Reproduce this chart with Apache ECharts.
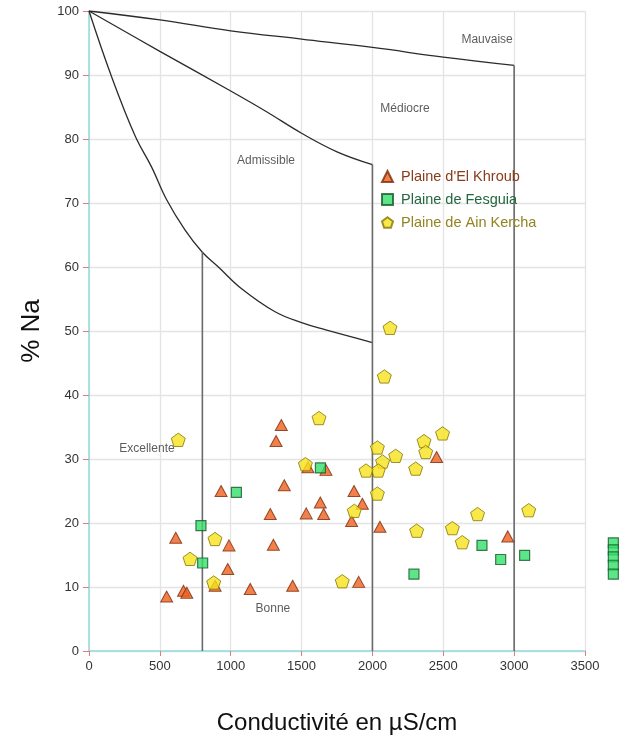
<!DOCTYPE html>
<html>
<head>
<meta charset="utf-8">
<script src="https://cdn.jsdelivr.net/npm/echarts@6/dist/echarts.min.js"></script>
<style>
html,body{margin:0;padding:0;background:#fff;}
#chart{width:627px;height:749px;}
</style>
</head>
<body>
<div id="chart"></div>
<script>
// ---- data ----
var khroubX = [548, 667, 690, 612, 932, 988, 979, 1138, 1437, 1301, 1279, 1320, 1357, 1378, 1533, 1632, 1656, 1672, 1545, 890, 1870, 1929, 1853, 2053, 1903, 2453, 2955];
var khroubY = [8.5, 9.4, 9.1, 17.7, 25.0, 16.5, 12.8, 9.7, 10.2, 16.6, 21.4, 32.8, 35.3, 25.9, 21.5, 23.2, 21.4, 28.3, 28.7, 10.2, 25.0, 23.0, 20.3, 19.4, 10.8, 30.3, 17.9];

var fesguiaX = [790, 802, 1040, 1633, 2293, 2773, 2905, 3074, 3700, 3700, 3700, 3700, 3700];
var fesguiaY = [19.6, 13.75, 24.8, 28.6, 12.0, 16.5, 14.3, 14.95, 16.9, 15.8, 14.7, 13.4, 12.0];

var kerchaX = [630, 889, 713, 880, 1623, 1527, 2124, 2084, 2495, 2364, 2376, 2035, 2164, 2072, 2041, 1955, 2305, 2035, 1872, 1787, 2312, 2564, 2634, 2742, 3103];
var kerchaY = [33.0, 17.5, 14.4, 10.7, 36.4, 29.2, 50.5, 42.9, 34.0, 32.8, 31.1, 31.8, 30.5, 29.6, 28.2, 28.2, 28.5, 24.6, 21.9, 10.9, 18.8, 19.2, 17.0, 21.4, 22.0];

// Wilcox boundaries
var topLineX = [0, 500, 1000, 1500, 2000, 2500, 3000];
var topLineY = [100, 98.6, 96.9, 95.6, 94.3, 92.8, 91.5];
var midCurveX = [0, 500, 1000, 1250, 1500, 1750, 2000];
var midCurveY = [100, 93.7, 87.5, 84.3, 80.9, 78.0, 76.0];
var lowCurveX = [0, 155, 325, 442, 548, 677, 800, 913, 1077, 1313, 1500, 1665, 2000];
var lowCurveY = [100, 90, 80.5, 75.6, 70.5, 65.8, 62.3, 60.0, 56.6, 53.0, 51.3, 50.2, 48.2];
var vertLineX = [800, 2000, 3000];
var vertLineTop = [62.3, 76.0, 91.5];

var zoneNames = ['Mauvaise', 'Médiocre', 'Admissible', 'Excellente', 'Bonne'];
var zoneX = [2809, 2230, 1249, 409, 1298];
var zoneY = [95.5, 84.8, 76.6, 31.6, 6.6];

var xTicks = [0, 500, 1000, 1500, 2000, 2500, 3000, 3500];
var yTicks = [0, 10, 20, 30, 40, 50, 60, 70, 80, 90, 100];

// ---- helpers ----
function zip(a, b) { return a.map(function (v, i) { return [v, b[i]]; }); }
var FONT = 'Liberation Sans, Arial, sans-serif';
var pentagon = 'path://M0,-10 L9.51,-3.09 L5.88,8.09 L-5.88,8.09 L-9.51,-3.09 Z';

var lineSeries = [];
[[topLineX, topLineY], [midCurveX, midCurveY], [lowCurveX, lowCurveY]].forEach(function (p) {
  lineSeries.push({
    type: 'line', data: zip(p[0], p[1]), showSymbol: false, symbol: 'none',
    smooth: 0.4, silent: true, z: 3,
    lineStyle: { color: '#2b2b2b', width: 1.3 }
  });
});
vertLineX.forEach(function (x, i) {
  lineSeries.push({
    type: 'line', data: [[x, 0], [x, vertLineTop[i]]], showSymbol: false, symbol: 'none',
    silent: true, z: 3, lineStyle: { color: '#6a6a6a', width: 1.6 }
  });
});

var option = {
  animation: false,
  backgroundColor: '#fff',
  grid: { left: 89, right: 42, top: 11, bottom: 98, containLabel: false },
  xAxis: {
    type: 'value', min: 0, max: 3500, interval: 500,
    name: 'Conductivité en µS/cm', nameLocation: 'middle', nameGap: 60,
    nameTextStyle: { fontFamily: FONT, fontSize: 24, color: '#111' },
    axisLine: { show: true, lineStyle: { color: '#8fdcdc', width: 1.5 } },
    axisTick: { show: true, length: 5, lineStyle: { color: '#e57a7a' } },
    axisLabel: { fontFamily: FONT, fontSize: 13, color: '#333', margin: 9,
      formatter: function (v) { return xTicks.indexOf(v) >= 0 ? String(v) : ''; } },
    splitLine: { show: true, lineStyle: { color: '#e4e4e4', width: 1.3 } }
  },
  yAxis: {
    type: 'value', min: 0, max: 100, interval: 10,
    name: '% Na', nameLocation: 'middle', nameGap: 44, nameRotate: 90,
    nameTextStyle: { fontFamily: FONT, fontSize: 26, color: '#111' },
    axisLine: { show: true, lineStyle: { color: '#8fdcdc', width: 1.5 } },
    axisTick: { show: true, length: 6, lineStyle: { color: '#e57a7a' } },
    axisLabel: { fontFamily: FONT, fontSize: 13, color: '#333', margin: 10,
      formatter: function (v) { return yTicks.indexOf(v) >= 0 ? String(v) : ''; } },
    splitLine: { show: true, lineStyle: { color: '#e4e4e4', width: 1.3 } }
  },
  legend: {
    orient: 'vertical', left: 381, top: 169, itemGap: 8,
    itemWidth: 11, itemHeight: 11, padding: 0,
    textStyle: { fontFamily: FONT, fontSize: 14.5, padding: [0, 0, 0, 3] },
    data: [
      { name: "Plaine d'El Khroub", icon: 'triangle', textStyle: { color: '#8a3c1c' } },
      { name: 'Plaine de Fesguia', icon: 'rect', textStyle: { color: '#24683f' } },
      { name: 'Plaine de Ain Kercha', icon: pentagon, textStyle: { color: '#928420' } }
    ]
  },
  series: lineSeries.concat([
    {
      name: 'zones', type: 'scatter', data: zip(zoneX, zoneY).map(function (d, i) { return { value: d, name: zoneNames[i] }; }),
      symbolSize: 0, silent: true, z: 4,
      label: { show: true, position: 'inside', formatter: '{b}', fontFamily: FONT, fontSize: 12, color: '#333' }
    },
    {
      name: "Plaine d'El Khroub", type: 'scatter', data: zip(khroubX, khroubY),
      symbol: 'triangle', symbolSize: [12, 11], z: 5, clip: false,
      itemStyle: { color: '#f0601e', borderColor: '#7a2a08', borderWidth: 1 }
    },
    {
      name: 'Plaine de Fesguia', type: 'scatter', data: zip(fesguiaX, fesguiaY),
      symbol: 'rect', symbolSize: 10, z: 6, clip: false,
      itemStyle: { color: '#35e06a', borderColor: '#155a2a', borderWidth: 1.2 }
    },
    {
      name: 'Plaine de Ain Kercha', type: 'scatter', data: zip(kerchaX, kerchaY),
      symbol: pentagon, symbolSize: 14, symbolKeepAspect: true, z: 7, clip: false,
      itemStyle: { color: '#f8e21c', borderColor: '#857400', borderWidth: 1 }
    }
  ])
};

var chart = echarts.init(document.getElementById('chart'), null, { renderer: 'canvas' });
chart.setOption(option);
</script>
</body>
</html>
